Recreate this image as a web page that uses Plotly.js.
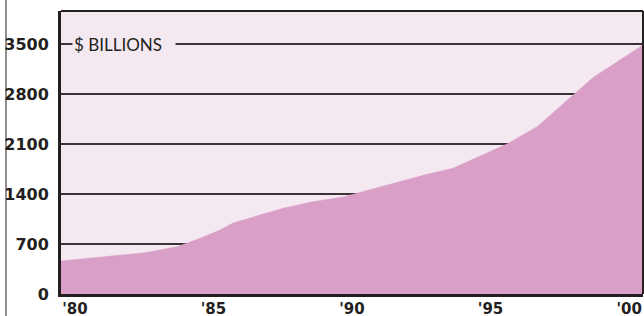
<!DOCTYPE html>
<html>
<head>
<meta charset="utf-8">
<script src="https://cdn.plot.ly/plotly-3.0.1.min.js"></script>
<style>html,body{margin:0;padding:0;background:#fff;}#chart{width:644px;height:316px;}</style>
</head>
<body>
<div id="chart"></div>
<script>
// Data (fractional years mark where the outline bends)
const years = [1979.5, 1982.53, 1983.69, 1984.52, 1985.24, 1985.71, 1987.51, 1988.59, 1989.68, 1992.71, 1993.64, 1994.62, 1995.59, 1996.68, 1998.70, 2000.5];
const billions = [462, 578, 662, 780, 896, 994, 1200, 1292, 1358, 1676, 1760, 1928, 2100, 2342, 3031, 3486];
const xTickVals = [1980, 1985, 1990, 1995, 2000];
const xTickText = ["'80", "'85", "'90", "'95", "'00"];
const yTickVals = [0, 700, 1400, 2100, 2800, 3500];
const yTickText = ["0", "700", "1400", "2100", "2800", "3500"];
const unitLabel = "$ BILLIONS";

const fillColor = '#d99fc6';
const plotBg = '#f4e8f1';
const ink = '#231f20';

const trace = {
  x: years,
  y: billions,
  type: 'scatter',
  mode: 'lines',
  fill: 'tozeroy',
  fillcolor: fillColor,
  line: {color: fillColor, width: 0.5},
  hoverinfo: 'skip'
};

const tickFont = {family: 'DejaVu Sans', size: 16, color: ink, weight: 'bold'};
const xTickFont = {family: 'DejaVu Sans', size: 15, color: ink, weight: 'bold'};

const layout = {
  width: 644,
  height: 316,
  margin: {l: 61, r: 1, t: 11, b: 22, pad: 0},
  paper_bgcolor: '#ffffff',
  plot_bgcolor: plotBg,
  showlegend: false,
  xaxis: {
    range: [1979.5, 2000.5],
    tickmode: 'array',
    tickvals: xTickVals,
    ticktext: xTickText,
    showgrid: false,
    zeroline: false,
    showline: true,
    linecolor: ink,
    linewidth: 3,
    ticks: '',
    ticklabelstandoff: -1,
    tickfont: xTickFont,
    fixedrange: true
  },
  yaxis: {
    range: [0, 3962],
    tickmode: 'array',
    tickvals: yTickVals,
    ticktext: yTickText,
    showgrid: true,
    gridcolor: '#3a3236',
    gridwidth: 1.5,
    zeroline: false,
    showline: true,
    linecolor: ink,
    linewidth: 3,
    ticks: '',
    ticklabelstandoff: 6,
    tickfont: tickFont,
    fixedrange: true
  },
  shapes: [
    {type: 'line', xref: 'paper', yref: 'paper', x0: 0, x1: 1, y0: 1, y1: 1, line: {color: ink, width: 2}},
    {type: 'line', xref: 'paper', yref: 'paper', x0: 1, x1: 1, y0: 0, y1: 1, line: {color: ink, width: 2}},
    {type: 'line', xref: 'paper', yref: 'paper', x0: -0.0945, x1: -0.0945, y0: -0.12, y1: 1.1, line: {color: ink, width: 1}}
  ],
  annotations: [
    {
      x: 1980, y: 3500, xref: 'x', yref: 'y',
      xanchor: 'left', yanchor: 'middle',
      xshift: -3,
      text: unitLabel,
      showarrow: false,
      align: 'left',
      width: 100,
      bgcolor: plotBg,
      borderpad: 1,
      font: {family: 'Lato', size: 17, color: ink, weight: 400}
    }
  ]
};

Plotly.newPlot('chart', [trace], layout, {staticPlot: true, displayModeBar: false});
</script>
</body>
</html>
